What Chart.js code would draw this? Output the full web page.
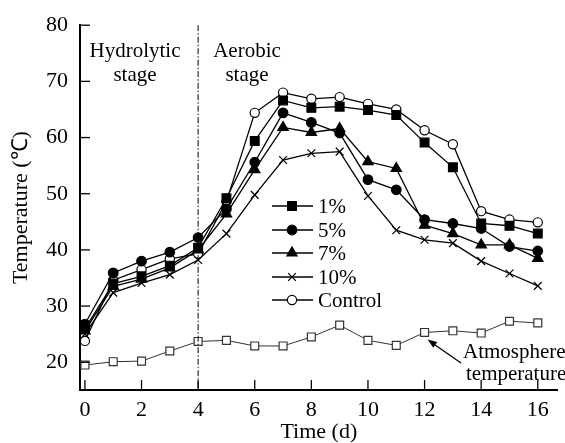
<!DOCTYPE html>
<html>
<head>
<meta charset="utf-8">
<script src="https://cdn.jsdelivr.net/npm/chart.js@4.4.0/dist/chart.umd.min.js"></script>
<style>
  body { margin: 0; background: #fff; }
  #wrap { width: 565px; height: 443px; }
</style>
</head>
<body>
<div id="wrap"><canvas id="tempChart" width="565" height="443"></canvas></div>
<script>
// days of composting
const days = [0, 1, 2, 3, 4, 5, 6, 7, 8, 9, 10, 11, 12, 13, 14, 15, 16];
const xTicks = [0, 2, 4, 6, 8, 10, 12, 14, 16];
const yTicks = [20, 30, 40, 50, 60, 70, 80];

const t1 = [26.0, 34.0, 35.3, 37.2, 40.4, 49.2, 59.4, 66.6, 65.3, 65.5, 64.9, 64.0, 59.1, 54.7, 44.7, 44.3, 42.9];
const t5 = [26.8, 35.9, 38.0, 39.6, 42.2, 47.3, 55.6, 64.4, 62.7, 60.8, 52.5, 50.7, 45.4, 44.7, 43.8, 40.6, 39.8];
const t7 = [25.6, 33.5, 34.8, 36.8, 40.0, 46.4, 54.3, 61.8, 60.9, 61.6, 55.7, 54.5, 44.4, 42.9, 40.9, 40.9, 38.5];
const t10 = [25.0, 32.4, 34.1, 35.6, 38.2, 42.9, 49.8, 56.0, 57.2, 57.5, 49.6, 43.5, 41.8, 41.2, 38.0, 35.8, 33.6];
const tControl = [23.8, 34.6, 36.5, 38.4, 39.3, 48.6, 64.4, 68.0, 66.9, 67.2, 66.0, 65.0, 61.3, 58.8, 46.9, 45.4, 44.9];
const tAtmos = [19.5, 20.1, 20.2, 22.0, 23.7, 23.9, 22.9, 22.9, 24.5, 26.6, 23.9, 23.0, 25.3, 25.6, 25.2, 27.3, 27.0];

const seriesNames = ['1%', '5%', '7%', '10%', 'Control'];

const FONT = 'Liberation Serif, Times New Roman, serif';

function pts(arr) {
    return days.map((d, i) => ({ x: d, y: arr[i] }));
}

function ds(label, arr, style, radius, fill) {
    return {
        label: label,
        data: pts(arr),
        borderColor: '#000',
        borderWidth: 1.3,
        pointStyle: style,
        pointRadius: radius,
        pointBorderWidth: 1.2,
        pointBorderColor: '#000',
        pointBackgroundColor: fill,
        backgroundColor: fill,
        tension: 0
    };
}

const datasets = [
    ds(seriesNames[0], t1, 'rect', 6.2, '#000'),
    ds(seriesNames[1], t5, 'circle', 4.8, '#000'),
    ds(seriesNames[2], t7, 'triangle', 6, '#000'),
    ds(seriesNames[3], t10, 'crossRot', 5.5, '#000'),
    ds(seriesNames[4], tControl, 'circle', 4.6, '#fff'),
    {
        label: 'Atmosphere temperature',
        data: pts(tAtmos),
        borderColor: '#333',
        borderWidth: 1,
        pointStyle: 'rect',
        pointRadius: 5.6,
        pointBorderWidth: 1.2,
        pointBorderColor: '#333',
        pointBackgroundColor: '#fff',
        tension: 0
    }
];

// inward ticks, stage divider, annotations, legend
const decor = {
    id: 'decor',
    afterDatasetsDraw(chart) {
        const ctx = chart.ctx;
        const xs = chart.scales.x, ys = chart.scales.y;
        const a = chart.chartArea;
        ctx.save();
        ctx.strokeStyle = '#000';
        ctx.lineWidth = 1.3;
        yTicks.forEach(v => {
            const py = ys.getPixelForValue(v);
            ctx.beginPath(); ctx.moveTo(a.left, py); ctx.lineTo(a.left + 10, py); ctx.stroke();
        });
        xTicks.forEach(v => {
            const px = xs.getPixelForValue(v);
            ctx.beginPath(); ctx.moveTo(px, a.bottom); ctx.lineTo(px, a.bottom - 10); ctx.stroke();
        });

        // stage divider
        const dx = xs.getPixelForValue(4);
        ctx.setLineDash([6, 2, 1.5, 2]);
        ctx.lineWidth = 1;
        ctx.beginPath(); ctx.moveTo(dx, a.top); ctx.lineTo(dx, a.bottom); ctx.stroke();
        ctx.setLineDash([]);

        ctx.fillStyle = '#000';
        ctx.font = '21px ' + FONT;
        ctx.textAlign = 'center';
        ctx.textBaseline = 'middle';
        ctx.fillText('Hydrolytic', 135, 51);
        ctx.fillText('stage', 135, 75);
        ctx.fillText('Aerobic', 247, 51);
        ctx.fillText('stage', 247, 75);

        // atmosphere label + arrow
        ctx.textAlign = 'left';
        ctx.fillText('Atmosphere', 463, 352);
        ctx.fillText('temperature', 466, 374);
        const ax = xs.getPixelForValue(12) + 3;
        const ay = ys.getPixelForValue(tAtmos[12]) + 7;
        const tx = 461, ty = 363;
        ctx.lineWidth = 1.3;
        ctx.beginPath(); ctx.moveTo(tx, ty); ctx.lineTo(ax + 4, ay + 3); ctx.stroke();
        const ang = Math.atan2(ay - ty, ax - tx);
        ctx.beginPath();
        ctx.moveTo(ax, ay);
        ctx.lineTo(ax - 10 * Math.cos(ang - 0.35), ay - 10 * Math.sin(ang - 0.35));
        ctx.lineTo(ax - 10 * Math.cos(ang + 0.35), ay - 10 * Math.sin(ang + 0.35));
        ctx.closePath();
        ctx.fill();

        // legend
        const rowY = [206, 230, 253, 277, 300];
        seriesNames.forEach((name, i) => {
            const d = chart.data.datasets[i];
            const y = rowY[i];
            ctx.strokeStyle = '#000';
            ctx.lineWidth = 1.3;
            ctx.beginPath(); ctx.moveTo(272, y); ctx.lineTo(313, y); ctx.stroke();
            ctx.fillStyle = d.pointBackgroundColor;
            ctx.lineWidth = d.pointBorderWidth;
            Chart.helpers.drawPoint(ctx, {
                pointStyle: d.pointStyle, radius: d.pointRadius,
                borderWidth: d.pointBorderWidth, rotation: 0
            }, 292, y);
            ctx.fillStyle = '#000';
            ctx.fillText(name, 318, y + 1);
        });
        ctx.restore();
    }
};

new Chart(document.getElementById('tempChart'), {
    type: 'line',
    data: { datasets: datasets },
    options: {
        responsive: false,
        animation: false,
        layout: { padding: { top: 22, right: 0, left: 0, bottom: 0 } },
        plugins: { legend: { display: false }, tooltip: { enabled: false } },
        scales: {
            x: {
                type: 'linear',
                min: -0.174,
                max: 16.7,
                afterBuildTicks: s => { s.ticks = xTicks.map(v => ({ value: v })); },
                afterFit: s => { s.height = 53; },
                grid: { display: false, drawTicks: false },
                border: { display: true, color: '#000', width: 2 },
                ticks: { color: '#000', padding: 7, font: { family: FONT, size: 22 } },
                title: {
                    display: true, text: 'Time (d)', color: '#000',
                    padding: { top: 0, bottom: 0 }, font: { family: FONT, size: 22, lineHeight: 1 }
                }
            },
            y: {
                min: 15.06,
                max: 80,
                afterBuildTicks: s => { s.ticks = yTicks.map(v => ({ value: v })); },
                afterFit: s => { s.width = 80; },
                grid: { display: false, drawTicks: false },
                border: { display: true, color: '#000', width: 2 },
                ticks: { color: '#000', padding: 12, font: { family: FONT, size: 22 } },
                title: {
                    display: true, text: 'Temperature (℃)', color: '#000',
                    padding: { top: 10, bottom: 0 }, font: { family: FONT, size: 22, lineHeight: 1 }
                }
            }
        }
    },
    plugins: [decor]
});
</script>
</body>
</html>
